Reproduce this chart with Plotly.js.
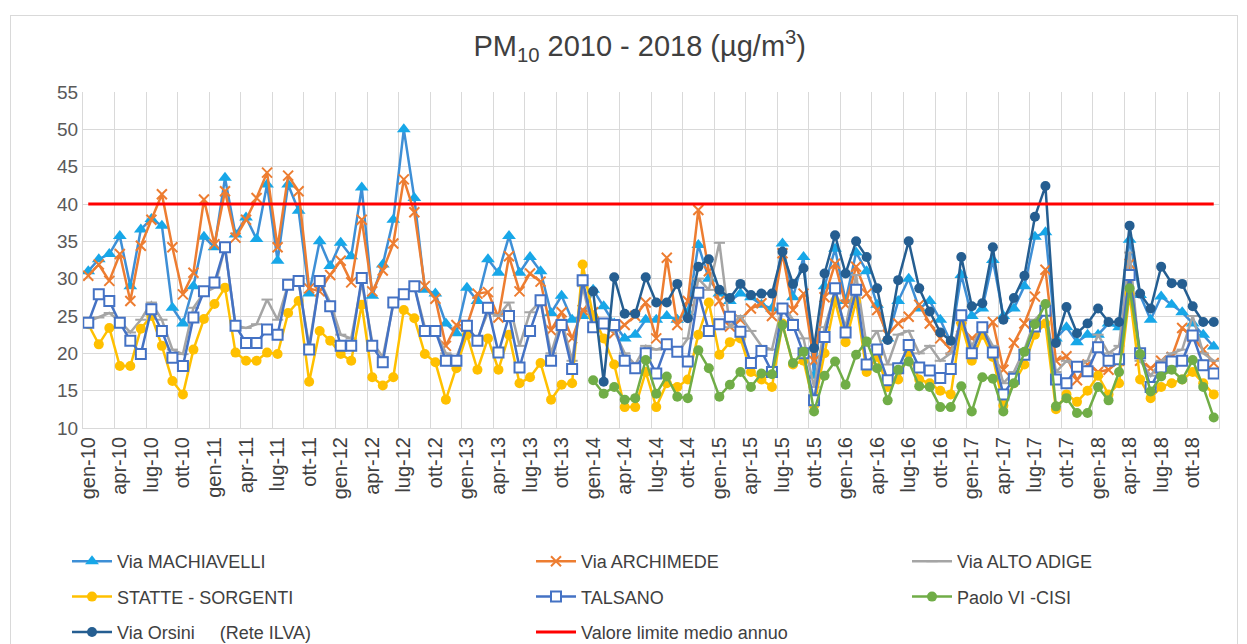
<!DOCTYPE html>
<html>
<head>
<meta charset="utf-8">
<script src="https://cdn.plot.ly/plotly-3.0.1.min.js"></script>
<style>
  html, body { margin: 0; padding: 0; background: #ffffff; }
  #wrap { position: relative; width: 1247px; height: 644px; overflow: hidden; }
  #chart { position: absolute; left: 0; top: 0; width: 1247px; height: 644px; }
  #frame { position: absolute; left: 10px; top: 15px; width: 1226px; height: 640px;
           border: 1px solid #d9d9d9; pointer-events: none; }
</style>
</head>
<body>
<div id="wrap">
  <div id="chart"></div>
  <div id="frame"></div>
</div>
<script>
// ---- categories ----
const monthNames = ['gen','feb','mar','apr','mag','giu','lug','ago','set','ott','nov','dic'];
const yearCodes = ['10','11','12','13','14','15','16','17','18'];
const months = [];
yearCodes.forEach(y => monthNames.forEach(m => months.push(m + '-' + y)));
const tickLabels = months.filter((_, i) => i % 3 === 0);

// ---- series values (µg/m3) ----
const machiavelli = [
  31.0, 32.6, 33.3, 35.7, 29.0, 36.6, 38.0, 37.1, 26.1, 24.0, 29.0, 35.6,
  34.2, 43.5, 35.9, 38.2, 35.3, 42.6, 32.4, 42.6, 39.1, 28.0, 35.0, 31.7,
  34.8, 33.0, 42.2, 27.7, 31.9, 37.9, 50.0, 40.8, 28.5, 28.0, 24.0, 22.7,
  28.8, 27.0, 32.6, 30.8, 35.7, 30.8, 32.9, 31.0, 25.4, 27.7, 24.5, 25.0,
  28.5, 26.3, 24.0, 22.0, 22.5, 24.5, 24.5, 25.0, 24.5, 25.5, 34.5, 30.0,
  28.0, 27.0, 28.0, 27.5, 26.5, 26.0, 34.7, 27.5, 32.9, 17.0, 29.0, 34.0,
  27.0, 33.5, 31.0, 26.5, 22.0, 27.0, 30.0, 26.0, 27.0, 24.5, 21.5, 30.5,
  25.0, 26.0, 32.5, 25.0, 26.0, 29.0, 35.6, 36.2, 22.0, 23.5, 21.5, 22.5,
  22.5, 24.0, 23.5, 35.2, 27.8, 24.5, 27.6, 26.5, 25.5, 24.0, 22.5, 20.9
];
const archimede = [
  30.4, 31.9, 29.7, 33.3, 27.0, 34.4, 37.9, 41.3, 34.2, 27.9, 30.8, 40.6,
  34.6, 41.7, 35.5, 37.9, 40.8, 44.2, 34.2, 43.8, 41.7, 28.7, 28.3, 30.5,
  32.4, 29.5, 37.9, 28.3, 31.1, 34.7, 43.3, 38.9, 29.0, 27.3, 21.0, 23.8,
  23.7, 28.0, 28.2, 24.8, 33.0, 28.3, 30.7, 29.6, 23.1, 25.5, 22.0, 25.8,
  25.5, 23.8, 22.7, 23.8, 25.0, 26.8, 22.0, 32.8, 23.8, 27.0, 39.2, 31.0,
  27.0, 23.6, 24.5, 26.0, 26.7, 25.0, 33.4, 25.8, 28.0, 19.0, 27.5, 32.0,
  26.5, 31.6, 28.0, 25.8, 22.5, 24.0, 24.9, 26.5, 24.0, 22.0, 20.5, 23.5,
  22.0, 22.5, 24.2, 17.8, 21.4, 24.0, 27.6, 31.2, 19.0, 19.6, 16.4, 18.5,
  17.5, 17.8, 19.0, 32.0, 19.0, 18.0, 19.0, 19.5, 23.4, 22.2, 20.5, 18.7
];
const altoAdige = [
  24.3, 24.8, 25.4, 24.3, 22.8, 24.5, 26.8, 24.5, 20.5, 19.9, 26.1, 28.1,
  28.8, 34.2, 23.7, 23.4, 23.9, 27.2, 24.5, 29.2, 29.5, 21.0, 29.7, 26.8,
  22.5, 22.0, 29.5, 21.5, 19.5, 26.5, 28.0, 29.0, 23.5, 23.0, 20.0, 19.5,
  23.0, 22.0, 25.5, 25.0, 26.8, 21.0, 25.5, 27.0, 20.0, 24.5, 19.0, 29.0,
  23.0, 24.0, 23.0, 20.0, 18.5, 21.0, 20.5, 21.0, 20.0, 22.0, 30.0, 28.5,
  34.8, 23.5, 25.0, 23.0, 21.0, 20.5, 26.5, 24.5, 22.0, 15.5, 23.5, 28.0,
  23.5, 30.5, 21.0, 23.0, 18.5, 22.5, 23.0, 20.0, 21.0, 19.0, 20.0, 24.5,
  21.0, 23.5, 21.0, 16.0, 17.5, 20.5, 24.5, 26.0, 17.5, 19.0, 18.0, 19.0,
  22.5, 20.0, 21.0, 33.5, 19.0, 17.0, 19.0, 20.0, 20.5, 25.0, 20.0, 19.0
];
const statte = [
  23.9, 21.2, 23.4, 18.3, 18.3, 23.3, 25.0, 21.0, 16.3, 14.5, 20.5, 24.6,
  26.6, 28.8, 20.1, 19.0, 19.0, 20.1, 19.9, 25.4, 27.0, 16.2, 23.0, 21.7,
  19.9, 19.0, 26.5, 16.8, 15.7, 16.8, 25.8, 24.7, 19.9, 18.8, 13.8, 18.0,
  22.5, 17.8, 22.0, 17.8, 22.5, 16.0, 16.8, 18.7, 13.8, 15.8, 16.0, 31.9,
  25.0, 22.0, 18.5, 12.8, 12.8, 17.5, 12.8, 16.0, 15.5, 16.5, 22.5, 26.8,
  19.8, 21.5, 22.0, 17.5, 16.5, 15.5, 24.0, 18.5, 19.0, 13.0, 20.0, 27.0,
  21.5, 27.0, 17.5, 19.5, 15.5, 16.5, 20.0, 16.5, 16.0, 15.0, 14.5, 24.0,
  19.0, 22.5, 19.5, 13.0, 16.0, 18.5, 22.5, 24.0, 12.5, 14.5, 13.5, 15.0,
  17.0, 14.5, 16.0, 28.0, 16.5, 14.0, 15.5, 16.0, 16.5, 17.5, 16.0, 14.5
];
const talsano = [
  24.1, 27.9, 27.0, 24.1, 21.7, 19.9, 25.9, 23.0, 19.4, 18.3, 24.8, 28.3,
  29.5, 34.2, 23.7, 21.4, 21.4, 23.2, 22.5, 29.2, 29.7, 20.5, 29.7, 26.3,
  21.0, 21.0, 30.1, 21.0, 18.8, 26.8, 27.9, 29.0, 23.0, 23.0, 19.0, 19.0,
  23.7, 21.7, 26.1, 20.1, 25.0, 18.1, 23.0, 27.1, 19.0, 23.8, 17.9, 29.8,
  23.5, 24.0, 23.8, 19.0, 18.0, 20.0, 17.3, 21.2, 20.2, 18.9, 28.1, 23.0,
  23.9, 24.9, 22.9, 18.7, 20.3, 17.5, 26.0, 23.8, 20.0, 13.7, 22.2, 28.7,
  22.8, 28.5, 18.5, 20.5, 16.4, 18.0, 21.1, 18.1, 17.7, 16.7, 17.9, 25.1,
  20.0, 23.5, 20.1, 14.5, 16.6, 19.8, 23.6, 25.7, 16.5, 16.0, 18.2, 17.6,
  20.8, 19.0, 19.2, 30.5, 20.0, 15.5, 18.1, 18.9, 19.0, 22.4, 18.4, 17.3
];
const paoloVI = [
  null, null, null, null, null, null, null, null, null, null, null, null,
  null, null, null, null, null, null, null, null, null, null, null, null,
  null, null, null, null, null, null, null, null, null, null, null, null,
  null, null, null, null, null, null, null, null, null, null, null, null,
  16.4, 14.6, 15.5, 13.8, 14.0, 19.1, 14.6, 16.9, 14.2, 14.0, 20.4, 18.0,
  14.2, 15.8, 17.5, 15.5, 17.3, 17.2, 23.8, 18.7, 20.2, 12.2, 17.0, 18.9,
  15.8, 19.8, 21.6, 18.0, 13.7, 17.8, 18.9, 15.6, 15.5, 12.8, 12.8, 15.6,
  12.2, 16.8, 16.6, 12.2, 16.0, 20.2, 23.9, 26.6, 12.9, 14.0, 12.0, 12.0,
  15.5, 13.7, 17.5, 28.7, 19.9, 14.9, 16.9, 17.8, 16.5, 19.1, 15.5, 11.4
];
const orsini = [
  null, null, null, null, null, null, null, null, null, null, null, null,
  null, null, null, null, null, null, null, null, null, null, null, null,
  null, null, null, null, null, null, null, null, null, null, null, null,
  null, null, null, null, null, null, null, null, null, null, null, null,
  28.3, 16.2, 30.2, 25.3, 25.3, 30.2, 26.8, 26.8, 29.3, 24.7, 31.6, 32.6,
  28.5, 27.4, 29.3, 27.8, 28.0, 28.0, 33.6, 29.3, 31.4, 20.7, 30.7, 35.8,
  30.7, 35.0, 32.9, 28.7, 21.8, 29.8, 35.0, 28.7, 25.6, 22.8, 21.7, 32.9,
  26.3, 26.7, 34.2, 24.5, 27.4, 30.4, 38.3, 42.4, 21.4, 26.2, 22.7, 24.0,
  26.0, 24.2, 24.2, 37.1, 28.0, 26.0, 31.6, 29.4, 29.3, 26.3, 24.2, 24.2
];
const limitValue = 40;
const limitSeries = months.map(() => limitValue);

const FONT = 'Liberation Sans, Arial, sans-serif';
const TXT = '#404040';

function series(name, y, color, marker, legend, lw) {
  return {
    type: 'scatter', mode: 'lines+markers', name: name,
    x: months, y: y, legend: legend, legendgroup: name,
    line: { color: color, width: lw || 2.5 },
    marker: marker, connectgaps: false, showlegend: true
  };
}

const traces = [
  {
    type: 'scatter', mode: 'markers', x: [-0.5, months.length - 0.5], y: [10, 10],
    xaxis: 'x2', yaxis: 'y', marker: { opacity: 0 }, showlegend: false, hoverinfo: 'skip'
  },
  series('Via MACHIAVELLI', machiavelli, '#3E8FD6',
    { symbol: 'triangle-up', size: 12, color: '#17A7E8', line: { width: 0 } }, 'legend'),
  series('Via ARCHIMEDE', archimede, '#ED7D31',
    { symbol: 'x-thin', size: 10, color: '#ED7D31', line: { width: 2, color: '#ED7D31' } }, 'legend2'),
  series('Via ALTO ADIGE', altoAdige, '#A5A5A5',
    { symbol: 'line-ew', size: 8, color: '#A5A5A5', line: { width: 2, color: '#A5A5A5' } }, 'legend3'),
  series('STATTE - SORGENTI', statte, '#FFC000',
    { symbol: 'circle', size: 10, color: '#FFC000', line: { width: 0 } }, 'legend'),
  series('TALSANO', talsano, '#4472C4',
    { symbol: 'square', size: 10, color: '#ffffff', line: { width: 2, color: '#4472C4' } }, 'legend2'),
  series('Paolo VI -CISI', paoloVI, '#70AD47',
    { symbol: 'circle', size: 10, color: '#70AD47', line: { width: 0 } }, 'legend3'),
  series('Via Orsini&nbsp;&nbsp;&nbsp;&nbsp;&nbsp;(Rete ILVA)', orsini, '#255E91',
    { symbol: 'circle', size: 10, color: '#255E91', line: { width: 0 } }, 'legend'),
  {
    type: 'scatter', mode: 'lines', name: 'Valore limite medio annuo',
    x: months, y: limitSeries, legend: 'legend2', legendgroup: 'limit',
    line: { color: '#FF0000', width: 3 }
  }
];

const legendCommon = {
  orientation: 'v', xref: 'container', yref: 'container',
  xanchor: 'left', yanchor: 'top', y: 1 - 543 / 644,
  font: { family: FONT, size: 18, color: TXT },
  bgcolor: 'rgba(0,0,0,0)', borderwidth: 0,
  tracegroupgap: 9, itemwidth: 40
};

const layout = {
  width: 1247, height: 644,
  margin: { l: 83, r: 28, t: 92, b: 216, autoexpand: false },
  paper_bgcolor: 'rgba(0,0,0,0)', plot_bgcolor: '#ffffff',
  font: { family: FONT, color: TXT },
  title: {
    text: 'PM<sub>10</sub> 2010 - 2018 (µg/m<sup>3</sup>)',
    font: { family: FONT, size: 29, color: TXT },
    xref: 'container', x: 0.513, xanchor: 'center',
    yref: 'container', y: 1 - 46 / 644, yanchor: 'middle'
  },
  xaxis: {
    type: 'category', categoryorder: 'array', categoryarray: months,
    range: [-0.5, months.length - 0.5],
    tickmode: 'array', tickvals: tickLabels, ticktext: tickLabels,
    tickangle: -90, tickfont: { family: FONT, size: 20, color: TXT },
    showgrid: false, zeroline: false,
    showline: true, linecolor: '#d9d9d9', linewidth: 1,
    ticks: '', fixedrange: true
  },
  xaxis2: {
    overlaying: 'x', anchor: 'y', type: 'linear',
    range: [-0.5, months.length - 0.5],
    tick0: -0.5, dtick: 3, showticklabels: false, ticks: '',
    showgrid: true, gridcolor: '#d9d9d9', gridwidth: 1, zeroline: false,
    showline: false
  },
  yaxis: {
    range: [10, 55], tick0: 10, dtick: 5,
    tickfont: { family: FONT, size: 19, color: '#595959' },
    showgrid: true, gridcolor: '#d9d9d9', gridwidth: 1, zeroline: false,
    showline: true, linecolor: '#d9d9d9', mirror: true, ticks: '',
    fixedrange: true
  },
  legend: Object.assign({}, legendCommon, { x: 67 / 1247 }),
  legend2: Object.assign({}, legendCommon, { x: 531 / 1247 }),
  legend3: Object.assign({}, legendCommon, { x: 907 / 1247 }),
  showlegend: true
};

Plotly.newPlot('chart', traces, layout, { staticPlot: true, displayModeBar: false });
</script>
</body>
</html>
